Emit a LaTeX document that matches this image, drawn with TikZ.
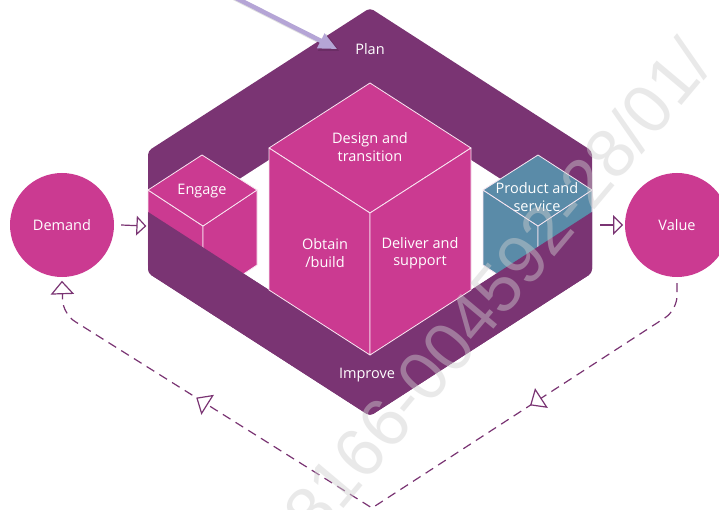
\documentclass[tikz,border=0pt]{standalone}
\usepackage{fontspec}
\setmainfont{Open Sans}
\newfontfamily\markfont{Liberation Sans}
\usetikzlibrary{decorations.markings}

\definecolor{ringpurple}{HTML}{7A3473}
\definecolor{cubepink}{HTML}{CB3A91}
\definecolor{cubeblue}{HTML}{5A8BA8}
\definecolor{pointer}{HTML}{B5A5D6}
\definecolor{markgrey}{HTML}{CFCFCF}

% hollow triangular heads, drawn in the local frame of a marking
\newcommand\smallhead{\draw[solid, fill=white, draw=ringpurple, line width=1.2pt, line join=miter]
  (0.5,0) -- (-8,8.5) -- (-8,-8.5) -- cycle;}
\newcommand\loophead{\draw[solid, fill=white, draw=ringpurple, line width=1.2pt, line join=miter]
  (0.5,0) -- (-11.5,10.5) -- (-11.5,-10.5) -- cycle;}
\newcommand\pointerhead{\fill[pointer] (2,0) -- (-16,8.5) -- (-16,-8.5) -- cycle;}
\newcommand\pointershade{\fill[black, opacity=0.12] (3,0) -- (-16,9.5) -- (-16,-9.5) -- cycle;}

\begin{document}
\begin{tikzpicture}[x=1pt,y=-1pt,
  label/.style={text=white, font=\fontsize{14.5}{17.5}\selectfont, align=center, inner sep=0pt},
  face/.style={draw=white!88!cubepink, line width=0.8pt, line join=round},
  pinkface/.style={face, fill=cubepink},
  blueface/.style={face, fill=cubeblue},
  disc/.style={circle, fill=cubepink, minimum size=104pt, inner sep=0pt},
  flow/.style={draw=ringpurple, line width=1.2pt, postaction={decorate},
    decoration={markings, mark=at position 1 with {\smallhead}}},
  loopline/.style={draw=ringpurple, line width=1.2pt, dash pattern=on 9pt off 6pt},
]
\useasboundingbox (0,0) rectangle (719,510);
\clip (0,0) rectangle (719,510);
\fill[white] (0,0) rectangle (719,510);

% outer hexagonal ring with its hollow centre
\path[fill=ringpurple, rounded corners=4pt]
  (370,8) -- (148,151) -- (148,273) -- (370,416) -- (592,273) -- (592,151) -- cycle;
\fill[white] (370,95) -- (168,225) -- (370,355) -- (572,225) -- cycle;

% small cube on the left
\path[pinkface] (148,190) -- (203,226) -- (203,301) -- (148,265) -- cycle;
\path[pinkface] (257,190) -- (203,226) -- (203,301) -- (257,265) -- cycle;
\path[pinkface] (202,155) -- (148,190) -- (203,226) -- (257,190) -- cycle;

% small cube on the right
\path[blueface] (483,190) -- (538,226) -- (538,301) -- (483,265) -- cycle;
\path[blueface] (592,190) -- (538,226) -- (538,301) -- (592,265) -- cycle;
\path[blueface] (538,155) -- (483,190) -- (538,226) -- (592,190) -- cycle;

% front band of the ring, passing in front of the small cubes
\begin{scope}
  \clip[rounded corners=4pt]
    (370,8) -- (148,151) -- (148,273) -- (370,416) -- (592,273) -- (592,151) -- cycle;
  \fill[ringpurple] (100,181) -- (370,355) -- (640,181) -- (640,460) -- (100,460) -- cycle;
\end{scope}

% large central cube
\path[pinkface] (370,83) -- (269,148) -- (370,213) -- (471,148) -- cycle;
\path[pinkface] (269,148) -- (370,213) -- (370,355) -- (269,290) -- cycle;
\path[pinkface] (471,148) -- (370,213) -- (370,355) -- (471,290) -- cycle;

% labels
\node[label] (plan) at (370,49) {Plan};
\node[label] (improve) at (367,375) {Improve};
\node[label] (design) at (370,147) {Design and\\transition};
\node[label] (obtain) at (325,253) {Obtain\\/build};
\node[label] (deliver) at (420,253) {Deliver and\\support};
\node[label] (engage) at (202,191) {Engage};
\node[label] (product) at (537,197) {Product and\\service};

% demand and value
\node[disc] (demand) at (62,225) {};
\node[label] at (demand.center) {Demand};
\node[disc] (value) at (677,225) {};
\node[label] at (value.center) {Value};

\coordinate (ringW) at (145,226);
\coordinate (ringE) at (600,225);
\draw[flow] ([xshift=7pt]demand.east) -- (ringW);
\draw[flow] (ringE) -- ([xshift=-3pt]value.west);

% dashed feedback loop from value back to demand
\coordinate (loopR) at (677,310);
\coordinate (loopB) at (372,508);
\coordinate (loopL) at (63,314);
\draw[loopline, postaction={decorate},
  decoration={markings,
    mark=at position 198pt with {\loophead},
    mark=at position 594pt with {\loophead},
    mark=at position 1 with {\loophead}}]
  ([yshift=-6pt]value.south) [rounded corners=14pt] -- (loopR)
  [sharp corners] -- (loopB)
  [rounded corners=14pt] -- (loopL)
  [sharp corners] -- ([yshift=-5pt]demand.south);

% pointer arrow coming in from the top
\coordinate (pointerStart) at (232,-4);
\coordinate (pointerEnd) at (335,48);
\draw[line width=5pt, black, opacity=0.12, shorten >=10pt, postaction={decorate},
  decoration={markings, mark=at position 1 with {\pointershade}}]
  ([shift={(1.5,1.5)}]pointerStart) -- ([shift={(1.5,1.5)}]pointerEnd);
\draw[line width=4.5pt, pointer, shorten >=10pt, postaction={decorate},
  decoration={markings, mark=at position 1 with {\pointerhead}}]
  (pointerStart) -- (pointerEnd);

% diagonal stamp over the figure
\node[rotate=50, text=markgrey, text opacity=0.45,
  font=\markfont\fontsize{69}{69}\selectfont, inner sep=0pt] (stamp) at (497,288)
  {8166-004592-28/01/};
\end{tikzpicture}
\end{document}
